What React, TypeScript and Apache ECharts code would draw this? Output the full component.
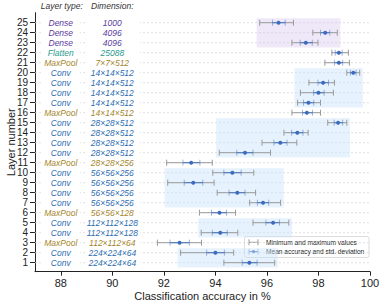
import React, { useEffect, useRef } from 'react';
import * as echarts from 'echarts';

const layers = [1, 2, 3, 4, 5, 6, 7, 8, 9, 10, 11, 12, 13, 14, 15, 16, 17, 18, 19, 20, 21, 22, 23, 24, 25];
const layerTypes = ['Conv', 'Conv', 'MaxPool', 'Conv', 'Conv', 'MaxPool', 'Conv', 'Conv', 'Conv', 'Conv', 'MaxPool', 'Conv', 'Conv', 'Conv', 'Conv', 'MaxPool', 'Conv', 'Conv', 'Conv', 'Conv', 'MaxPool', 'Flatten', 'Dense', 'Dense', 'Dense'];
const dims = ['224×224×64', '224×224×64', '112×112×64', '112×112×128', '112×112×128', '56×56×128', '56×56×256', '56×56×256', '56×56×256', '56×56×256', '28×28×256', '28×28×512', '28×28×512', '28×28×512', '28×28×512', '14×14×512', '14×14×512', '14×14×512', '14×14×512', '14×14×512', '7×7×512', '25088', '4096', '4096', '1000'];
const minVals = [94.33, 92.65, 91.75, 93.45, 95.46, 93.38, 95.33, 94.07, 92.15, 93.9, 92.11, 94.15, 95.81, 96.66, 98.36, 96.97, 97.19, 97.3, 97.63, 99.1, 98.25, 98.52, 96.97, 97.78, 95.72];
const stdLow = [95.04, 93.66, 92.24, 93.88, 95.96, 93.85, 95.63, 94.53, 92.79, 94.33, 92.74, 94.83, 96.27, 96.96, 98.61, 97.38, 97.42, 97.81, 97.98, 99.24, 98.62, 98.65, 97.29, 98.08, 96.22];
const meanVals = [95.32, 94.0, 92.61, 94.19, 96.24, 94.16, 95.85, 94.85, 93.14, 94.66, 93.06, 95.15, 96.52, 97.18, 98.76, 97.55, 97.61, 98.0, 98.18, 99.35, 98.79, 98.79, 97.51, 98.26, 96.45];
const stdHigh = [95.62, 94.35, 92.99, 94.46, 96.49, 94.43, 96.07, 95.15, 93.51, 95.0, 93.4, 95.46, 96.78, 97.4, 98.94, 97.77, 97.82, 98.22, 98.39, 99.46, 98.94, 98.92, 97.76, 98.44, 96.71];
const maxVals = [96.3, 94.71, 93.46, 94.87, 96.85, 94.78, 96.53, 95.56, 93.95, 95.49, 93.88, 96.14, 97.16, 97.6, 99.1, 98.08, 98.08, 98.58, 98.62, 99.6, 99.2, 99.16, 97.98, 98.73, 97.03];
const xTicks = [88, 90, 92, 94, 96, 98, 100];
const groupStart = [1, 4, 7, 12, 17, 23];
const groupEnd = [2, 5, 10, 15, 20, 25];
const groupKind = ['conv', 'conv', 'conv', 'conv', 'conv', 'dense'];

const typeColors: Record<string, string> = {
  Conv: '#2c6db3',
  MaxPool: '#a4862c',
  Flatten: '#2a9a8e',
  Dense: '#5b3c9e',
};

const FONT = '"Liberation Sans", Arial, sans-serif';

export default function App() {
  const ref = useRef<HTMLDivElement>(null);
  useEffect(() => {
    if (!ref.current) return;
    const chart = echarts.init(ref.current, null, { renderer: 'svg' });

    const errData = layers.map((l, i) => [l, minVals[i], stdLow[i], meanVals[i], stdHigh[i], maxVals[i]]);
    const rectData = groupStart.map((s, g) => {
      let lo = Infinity;
      let hi = -Infinity;
      for (let l = s; l <= groupEnd[g]; l++) {
        lo = Math.min(lo, minVals[l - 1]);
        hi = Math.max(hi, maxVals[l - 1]);
      }
      return [s - 0.47, groupEnd[g] + 0.45, lo - 0.12, hi + 0.12, g];
    });

    const option: any = {
      animation: false,
      textStyle: { fontFamily: FONT },
      grid: { left: 35, right: 12, top: 12.7, bottom: 35.3, containLabel: false, outerBoundsMode: 'none' },
      xAxis: {
        type: 'value',
        min: 87,
        max: 100,
        name: 'Classification accuracy in %',
        nameLocation: 'middle',
        nameGap: 19,
        nameMoveOverlap: false,
        nameTextStyle: { fontSize: 11, color: '#222', fontFamily: FONT },
        axisLine: { show: true, lineStyle: { color: '#222', width: 1 } },
        axisTick: { show: true, length: 4, customValues: xTicks, lineStyle: { color: '#222' } },
        axisLabel: { customValues: xTicks, fontSize: 11, color: '#222', margin: 6, fontFamily: FONT, hideOverlap: false },
        splitLine: { show: false },
      },
      yAxis: {
        type: 'value',
        min: 0.1,
        max: 26,
        name: 'Layer number',
        nameLocation: 'middle',
        nameGap: 19,
        nameMoveOverlap: false,
        nameTextStyle: { fontSize: 11, color: '#222', fontFamily: FONT },
        axisLine: { show: true, lineStyle: { color: '#222', width: 1 } },
        axisTick: { show: true, length: 5, customValues: layers, lineStyle: { color: '#222' } },
        axisLabel: { customValues: layers, fontSize: 10, lineHeight: 10, hideOverlap: false, color: '#222', margin: 7, fontFamily: FONT },
        splitLine: { show: false },
      },
      series: [
        {
          type: 'custom',
          z: 1,
          data: layers.map((l) => [l]),
          encode: { y: 0 },
          renderItem: (params: any, api: any) => {
            const y = api.value(0);
            const a = api.coord([87, y]);
            const b = api.coord([100, y]);
            return {
              type: 'line',
              shape: { x1: a[0], y1: a[1], x2: b[0], y2: b[1] },
              style: { stroke: '#d6d6d6', lineWidth: 0.8, lineDash: [2, 2] },
            };
          },
        },
        {
          type: 'custom',
          z: 2,
          data: rectData,
          encode: { y: [0, 1], x: [2, 3] },
          renderItem: (params: any, api: any) => {
            const p1 = api.coord([api.value(2), api.value(1)]);
            const p2 = api.coord([api.value(3), api.value(0)]);
            const kind = groupKind[api.value(4)];
            return {
              type: 'rect',
              shape: { x: p1[0], y: p1[1], width: p2[0] - p1[0], height: p2[1] - p1[1] },
              style: { fill: kind === 'dense' ? 'rgba(214,198,238,0.4)' : 'rgba(200,226,251,0.45)' },
            };
          },
        },
        {
          type: 'custom',
          z: 3,
          data: layers.map((l, i) => [l, i]),
          encode: { y: 0 },
          renderItem: (params: any, api: any) => {
            const y = api.value(0);
            const i = api.value(1);
            const c = typeColors[layerTypes[i]];
            const pt = api.coord([88, y]);
            const pd = api.coord([90, y]);
            const children: any[] = [
              { type: 'rect', shape: { x: pt[0] - 19, y: pt[1] - 4, width: 38, height: 8 }, style: { fill: '#fff' } },
              { type: 'rect', shape: { x: pd[0] - 26, y: pd[1] - 4, width: 54, height: 8 }, style: { fill: '#fff' } },
              {
                type: 'text',
                x: pt[0],
                y: pt[1],
                style: { text: layerTypes[i], fill: c, font: `italic 8.5px ${FONT}`, align: 'center', verticalAlign: 'middle' },
              },
              {
                type: 'text',
                x: pd[0],
                y: pd[1],
                style: { text: dims[i], fill: c, font: `italic 8.5px ${FONT}`, align: 'center', verticalAlign: 'middle' },
              },
            ];
            if (i === 0) {
              const ht = api.coord([88, 26.68]);
              const hd = api.coord([90, 26.68]);
              children.push(
                { type: 'text', x: ht[0] + 1, y: ht[1], style: { text: 'Layer type:', fill: '#333', font: `italic 8.5px ${FONT}`, align: 'center', verticalAlign: 'middle' } },
                { type: 'text', x: hd[0], y: hd[1], style: { text: 'Dimension:', fill: '#333', font: `italic 8.5px ${FONT}`, align: 'center', verticalAlign: 'middle' } },
              );
            }
            return { type: 'group', children };
          },
        },
        {
          type: 'custom',
          z: 4,
          data: errData,
          encode: { y: 0, x: [1, 2, 3, 4, 5] },
          renderItem: (params: any, api: any) => {
            const y = api.value(0);
            const p = [1, 2, 3, 4, 5].map((k) => api.coord([api.value(k), y]));
            const cy = p[0][1];
            const gray = '#9a9a9a';
            const blue = '#4a78c2';
            const blueCap = 'rgba(74,120,194,0.55)';
            const cap = (x: number, col: string, h: number) => ({
              type: 'line',
              shape: { x1: x, y1: cy - h, x2: x, y2: cy + h },
              style: { stroke: col, lineWidth: 1 },
            });
            return {
              type: 'group',
              children: [
                { type: 'line', shape: { x1: p[0][0], y1: cy, x2: p[4][0], y2: cy }, style: { stroke: gray, lineWidth: 1 } },
                cap(p[0][0], gray, 3),
                cap(p[4][0], gray, 3),
                { type: 'line', shape: { x1: p[1][0], y1: cy, x2: p[3][0], y2: cy }, style: { stroke: blue, lineWidth: 1 } },
                cap(p[1][0], blueCap, 3),
                cap(p[3][0], blueCap, 3),
                { type: 'circle', shape: { cx: p[2][0], cy, r: 2 }, style: { fill: '#3d6cbf' } },
              ],
            };
          },
        },
      ],
      graphic: [
        {
          type: 'group',
          z: 100,
          children: [
            { type: 'rect', shape: { x: 244.5, y: 236.5, width: 124.5, height: 21, r: 2 }, style: { fill: 'rgba(255,255,255,0.85)', stroke: '#d4d4d4', lineWidth: 0.8 } },
            { type: 'line', shape: { x1: 249, y1: 242.3, x2: 258, y2: 242.3 }, style: { stroke: '#9a9a9a', lineWidth: 1 } },
            { type: 'line', shape: { x1: 249, y1: 239.3, x2: 249, y2: 245.3 }, style: { stroke: '#9a9a9a', lineWidth: 1 } },
            { type: 'line', shape: { x1: 258, y1: 239.3, x2: 258, y2: 245.3 }, style: { stroke: '#9a9a9a', lineWidth: 1 } },
            { type: 'line', shape: { x1: 249, y1: 251.7, x2: 258, y2: 251.7 }, style: { stroke: '#4a78c2', lineWidth: 1 } },
            { type: 'line', shape: { x1: 249, y1: 248.7, x2: 249, y2: 254.7 }, style: { stroke: 'rgba(74,120,194,0.55)', lineWidth: 1 } },
            { type: 'line', shape: { x1: 258, y1: 248.7, x2: 258, y2: 254.7 }, style: { stroke: 'rgba(74,120,194,0.55)', lineWidth: 1 } },
            { type: 'circle', shape: { cx: 253.5, cy: 251.7, r: 1.6 }, style: { fill: '#3d6cbf' } },
            { type: 'text', x: 266, y: 242.3, style: { text: 'Minimum and maximum values', fill: '#222', font: `6.6px ${FONT}`, verticalAlign: 'middle' } },
            { type: 'text', x: 266, y: 251.7, style: { text: 'Mean accuracy and std. deviation', fill: '#222', font: `6.6px ${FONT}`, verticalAlign: 'middle' } },
          ],
        },
      ],
    };
    chart.setOption(option);
    return () => chart.dispose();
  }, []);
  return <div ref={ref} style={{ width: 382, height: 307, position: 'absolute', left: 0, top: 0 }} />;
}
